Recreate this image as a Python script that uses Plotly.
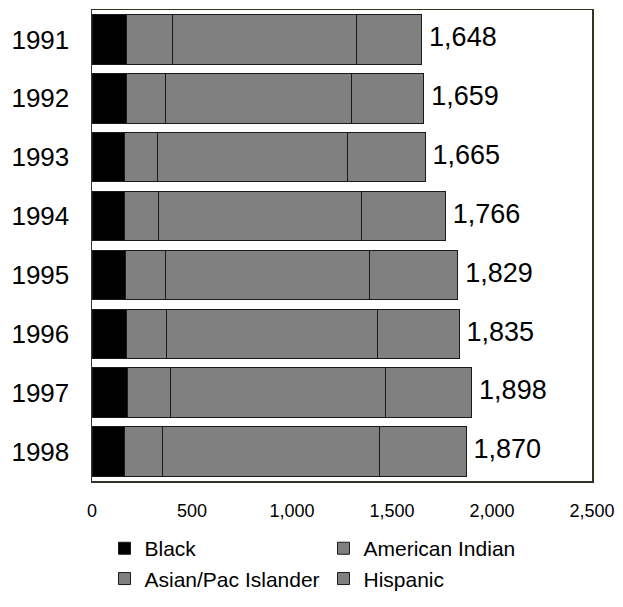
import plotly.graph_objects as go

years = ["1991", "1992", "1993", "1994", "1995", "1996", "1997", "1998"]
black = [172, 172, 161, 161, 169, 172, 176, 161]
american_indian = [232, 196, 166, 170, 199, 199, 215, 193]
asian_pac = [916, 931, 949, 1014, 1017, 1055, 1074, 1084]
hispanic = [328, 360, 389, 421, 444, 409, 433, 432]
totals = [1648, 1659, 1665, 1766, 1829, 1835, 1898, 1870]

x_ticks = [0, 500, 1000, 1500, 2000, 2500]
x_tick_labels = ["0", "500", "1,000", "1,500", "2,000", "2,500"]

FONT = "Liberation Sans, Arial, sans-serif"

series = [
    ("Black", black, "#000000"),
    ("American Indian", american_indian, "#808080"),
    ("Asian/Pac Islander", asian_pac, "#808080"),
    ("Hispanic", hispanic, "#808080"),
]

fig = go.Figure()
for name, vals, color in series:
    fig.add_trace(go.Bar(
        y=years, x=vals, name=name, orientation="h",
        marker=dict(color=color, line=dict(color="#1a1a1a", width=1)),
        hoverinfo="skip",
    ))

fig.add_trace(go.Scatter(
    y=years, x=totals, mode="text",
    text=["\u00a0" + f"{t:,}" for t in totals],
    textposition="middle right",
    textfont=dict(family=FONT, size=27, color="#000000"),
    showlegend=False, hoverinfo="skip", cliponaxis=False,
))

fig.update_layout(
    width=623, height=607,
    margin=dict(l=92, r=28, t=8, b=111),
    barmode="stack", bargap=0.16,
    paper_bgcolor="white", plot_bgcolor="white",
    font=dict(family=FONT, color="#000000"),
    showlegend=True,
    legend=dict(
        orientation="h", x=0.025, xanchor="left", y=-0.1, yanchor="top",
        font=dict(family=FONT, size=21), entrywidth=174, entrywidthmode="pixels",
        traceorder="normal", tracegroupgap=0, itemwidth=30,
    ),
    xaxis=dict(
        range=[0, 2500], tickvals=x_ticks, ticktext=x_tick_labels,
        showgrid=False, zeroline=False, showline=True, mirror=True,
        linecolor="#333326", linewidth=1.5, ticks="", ticklabelstandoff=13,
        ticklabeloverflow="allow",
        tickfont=dict(family=FONT, size=18),
    ),
    yaxis=dict(
        autorange="reversed", type="category",
        showgrid=False, zeroline=False, showline=True, mirror=True,
        linecolor="#333326", linewidth=1.5, ticks="", ticklabelstandoff=16,
        tickfont=dict(family=FONT, size=26),
    ),
)

fig.write_html(
    "out.html",
    config={"displayModeBar": False, "staticPlot": True},
    post_script="document.body.style.margin='0';",
)
